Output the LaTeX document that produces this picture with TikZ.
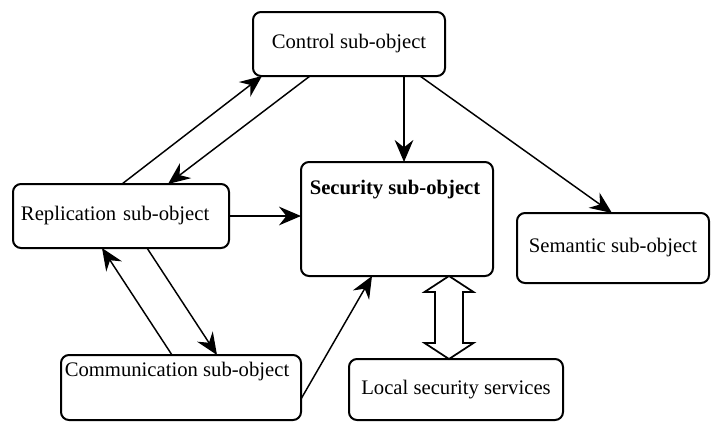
\documentclass[tikz,border=0pt]{standalone}
\usepackage{fontspec}
\setmainfont{Liberation Serif}
\usepackage{tikz}
\definecolor{ln}{HTML}{000000}
\usetikzlibrary{calc,arrows.meta}

\begin{document}
\begin{tikzpicture}[x=0.75pt,y=-0.75pt,
		box/.style={draw=ln,line width=1.5pt,rounded corners=6pt,outer sep=0pt,inner sep=0pt,font=\fontsize{15.5}{18}\selectfont},
		txt/.style={inner sep=0pt,font=\fontsize{15.5}{18}\selectfont},
		arr/.style={ln,line width=1.1pt,-{Stealth[length=16.5pt,width=14pt,inset=5.5pt]}},
		dbl/.style={draw=ln,fill=white,line width=1.3pt,line join=miter}]
			\useasboundingbox (0,0) rectangle (712,422);

			\node[box,minimum width=144pt,minimum height=48pt] (ctrl) at (349,44) {Control sub-object};
			\node[box,minimum height=48pt,text width=150pt,inner xsep=6pt,align=left] (rep) at (121,216) {Replication sub-object};
			\node[box,minimum width=144pt,minimum height=85.5pt] (sec) at (397,219) {};
			\node[txt] (sectxt) at (395,190) {\textbf{Security sub-object}};
			\node[box,minimum width=144pt,minimum height=52.5pt] (sem) at (613,248) {Semantic sub-object};
			\node[box,minimum width=180pt,minimum height=48.75pt] (comm) at (181,387.5) {};
			\node[txt] (commtxt) at (177,372) {Communication sub-object};
			\node[box,minimum width=160.5pt,minimum height=45.75pt] (loc) at (456,389.5) {Local security services};

			\draw[arr] ($(rep.north west)+(109,0)$) -- ($(ctrl.south west)+(9,0)$);
			\draw[arr] ($(ctrl.south west)+(57,0)$) -- ($(rep.north west)+(155,0)$);
			\draw[arr] ($(ctrl.south west)+(151,0)$) -- ($(sec.north west)+(103,0)$);
			\draw[arr] ($(ctrl.south west)+(167,0)$) -- ($(sem.north west)+(95,0)$);
			\draw[arr] (rep.east) -- (rep.east -| sec.west);

			\draw[arr] ($(rep.south west)+(134,0)$) -- ($(comm.north west)+(156,0)$);
			\draw[arr] ($(comm.north west)+(111,0)$) -- ($(rep.south west)+(89,0)$);
			\draw[arr] ($(comm.north east)+(0,44)$) -- ($(sec.south west)+(71,0)$);

			\coordinate (up) at ($(sec.south west)+(148,0)$);
			\coordinate (dn) at (up |- loc.north);
			\draw[dbl] (up) -- ++(24.5,16) -- ++(-10.5,0) -- ($(dn)+(14,-16)$) -- ++(10.5,0) -- (dn)
				-- ++(-24.5,-16) -- ++(10.5,0) -- ($(up)+(-14,16)$) -- ++(-10.5,0) -- cycle;
		\end{tikzpicture}
\end{document}
